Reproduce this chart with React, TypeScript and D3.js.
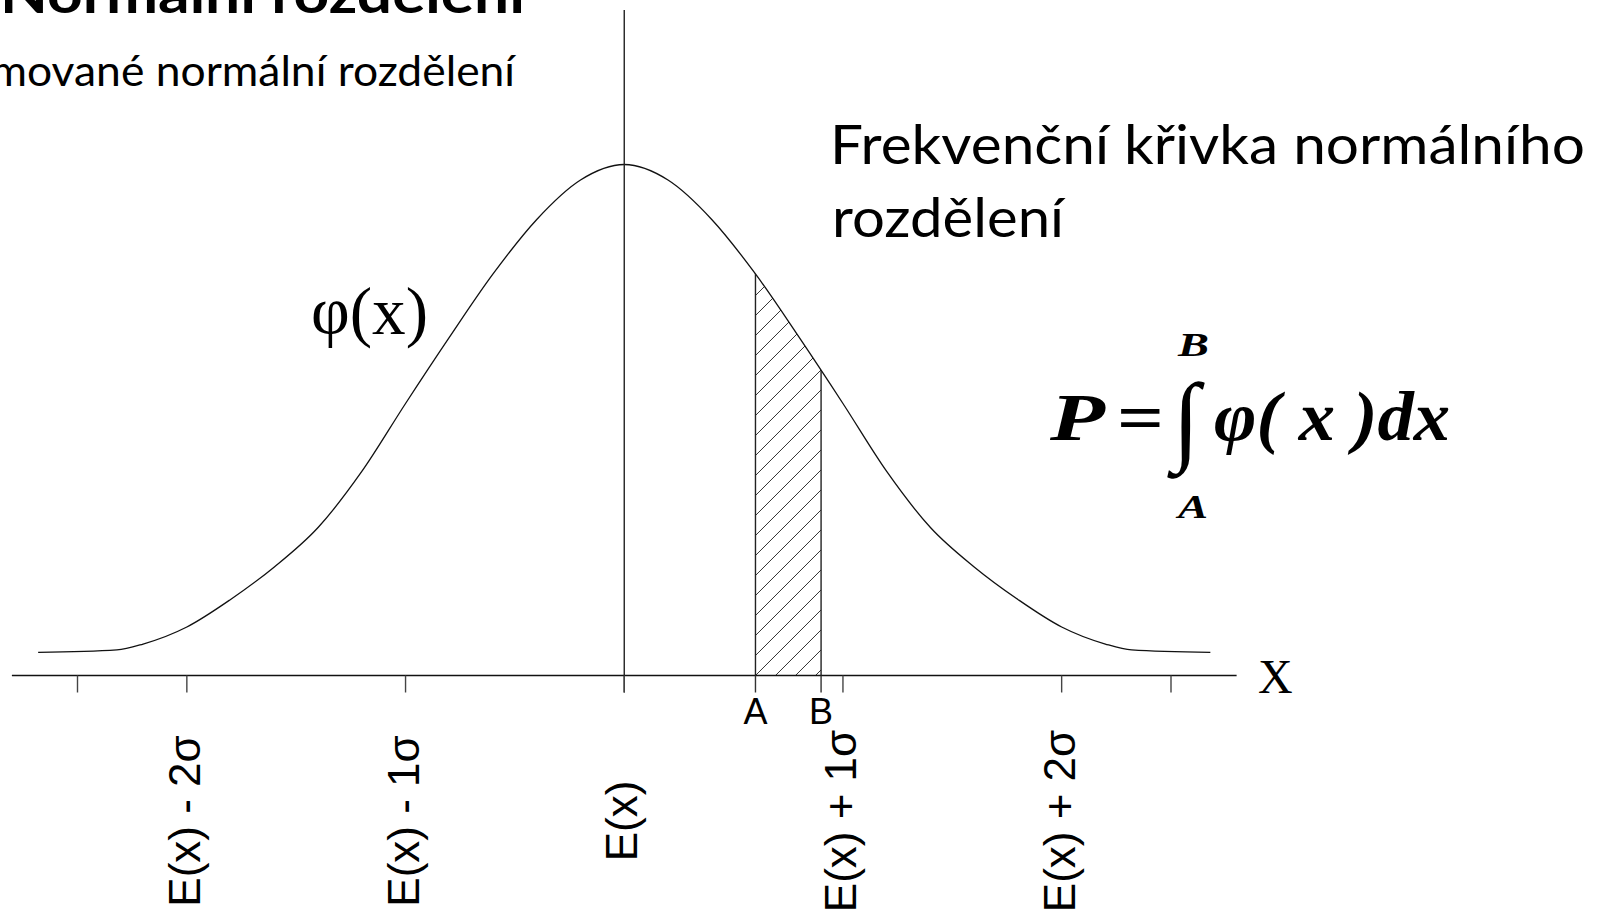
import React from "react";
import * as d3 from "d3";

const W = 1605;
const H = 915;

// Frequency curve samples: position in σ units from E(x), density value
const curveX = [
  -2.68, -2.32, -2.2, -2.0, -1.8, -1.6, -1.4, -1.2, -1.0, -0.8, -0.6, -0.4, -0.2, 0,
  0.2, 0.4, 0.6, 0.8, 1.0, 1.2, 1.4, 1.6, 1.8, 2.0, 2.2, 2.32, 2.68,
];
const curveY = [
  0.018, 0.02, 0.0246, 0.0379, 0.0594, 0.0848, 0.1156, 0.1594, 0.2125, 0.2641, 0.3137, 0.3563, 0.3871, 0.3992,
  0.3871, 0.3563, 0.3137, 0.2641, 0.2125, 0.1594, 0.1156, 0.0848, 0.0594, 0.0379, 0.0246, 0.02, 0.018,
];

// Axis ticks (σ units) and the labelled ones
const tickPositions = [-2.5, -2, -1, 0, 1, 2, 2.5];
const labelPositions = [-2, -1, 0, 1, 2];
const labelTexts = ["E(x) - 2σ", "E(x) - 1σ", "E(x)", "E(x) + 1σ", "E(x) + 2σ"];

// Integration bounds A and B (σ units)
const boundA = 0.6;
const boundB = 0.9;
const boundNames = ["A", "B"];

const serif = "'Liberation Serif', 'Times New Roman', serif";
const sans = "'Liberation Sans', Arial, sans-serif";
const humanist = "Lato, Carlito, Calibri, sans-serif";

export default function App() {
  const x = d3.scaleLinear().domain([-2.5, 2.5]).range([77.5, 1171]);
  const y = d3.scaleLinear().domain([0, 0.4]).range([675.5, 163.5]);

  const pts: [number, number][] = curveX.map((v, i) => [v, curveY[i]]);
  const line = d3
    .line<[number, number]>()
    .x((d) => x(d[0]))
    .y((d) => y(d[1]))
    .curve(d3.curveMonotoneX);
  const area = d3
    .area<[number, number]>()
    .x((d) => x(d[0]))
    .y0(y(0))
    .y1((d) => y(d[1]))
    .curve(d3.curveMonotoneX);

  const y0 = y(0);
  const tickLen = 17;
  const xa = x(boundA);
  const xb = x(boundB);
  const hatchStep = 20;
  const hatchPhase = (xa + y0) % hatchStep;
  const bounds = [boundA, boundB];

  return (
    <svg
      width={W}
      height={H}
      viewBox={`0 0 ${W} ${H}`}
      style={{ position: "fixed", left: 0, top: 0, background: "#fff" }}
    >
      <defs>
        <pattern
          id="hatch"
          patternUnits="userSpaceOnUse"
          width={hatchStep}
          height={hatchStep}
          x={hatchPhase}
          y={0}
        >
          <path
            d={`M0,${hatchStep} L${hatchStep},0 M-5,5 L5,-5 M${hatchStep - 5},${hatchStep + 5} L${hatchStep + 5},${hatchStep - 5}`}
            stroke="#333"
            strokeWidth={1}
          />
        </pattern>
        <clipPath id="under-curve">
          <path d={area(pts) || ""} />
        </clipPath>
      </defs>

      {/* headings */}
      <text x={0} y={13} fontFamily={humanist} fontWeight={700} fontSize={54} textLength={525} lengthAdjust="spacingAndGlyphs">
        Normální rozdělení
      </text>
      <text x={-84} y={86} fontFamily={humanist} fontSize={42} textLength={599} lengthAdjust="spacingAndGlyphs">
        Normované normální rozdělení
      </text>
      <text x={830} y={164} fontFamily={humanist} fontSize={55} textLength={755} lengthAdjust="spacingAndGlyphs">
        Frekvenční křivka normálního
      </text>
      <text x={832} y={237} fontFamily={humanist} fontSize={55} textLength={232} lengthAdjust="spacingAndGlyphs">
        rozdělení
      </text>

      {/* hatched probability region A..B */}
      <g clipPath="url(#under-curve)">
        <rect x={xa} y={0} width={xb - xa} height={y0} fill="url(#hatch)" />
        {bounds.map((b) => (
          <line key={b} x1={x(b)} x2={x(b)} y1={y0} y2={0} stroke="#222" strokeWidth={1.4} />
        ))}
      </g>

      {/* density curve */}
      <path d={line(pts) || ""} fill="none" stroke="#111" strokeWidth={1.3} />

      {/* mean line */}
      <line x1={x(0)} x2={x(0)} y1={10} y2={y0 + tickLen} stroke="#222" strokeWidth={1.4} />

      {/* x axis */}
      <line x1={x(-2.8)} x2={x(2.8)} y1={y0} y2={y0} stroke="#111" strokeWidth={1.5} />
      {tickPositions.map((t) => (
        <line key={t} x1={x(t)} x2={x(t)} y1={y0} y2={y0 + tickLen} stroke="#444" strokeWidth={1.4} />
      ))}
      {bounds.map((b) => (
        <line key={"b" + b} x1={x(b)} x2={x(b)} y1={y0} y2={y0 + tickLen} stroke="#333" strokeWidth={1.4} />
      ))}
      {bounds.map((b, i) => (
        <text key={"n" + b} x={x(b)} y={724} textAnchor="middle" fontFamily={sans} fontSize={36}>
          {boundNames[i]}
        </text>
      ))}
      <text x={1258} y={693} fontFamily={serif} fontSize={48}>
        X
      </text>

      {labelPositions.map((p, i) => (
        <text
          key={p}
          transform={`translate(${x(p) + 13},${821}) rotate(-90)`}
          textAnchor="middle"
          fontFamily={sans}
          fontSize={44}
        >
          {labelTexts[i]}
        </text>
      ))}

      {/* curve label */}
      <text x={311} y={334} fontFamily={serif} fontSize={68} textLength={117} lengthAdjust="spacingAndGlyphs">
        φ(x)
      </text>

      {/* probability integral */}
      <g fontFamily={serif} fontWeight={700} fontStyle="italic">
        <text x={1050} y={440} fontSize={68} textLength={55} lengthAdjust="spacingAndGlyphs">P</text>
        <text x={1117} y={440} fontSize={68} fontStyle="normal" textLength={47} lengthAdjust="spacingAndGlyphs">=</text>
        <text x={1186} y={452} fontSize={99} textAnchor="middle" fontStyle="normal">∫</text>
        <text x={1178} y={356} fontSize={34} textLength={31} lengthAdjust="spacingAndGlyphs">B</text>
        <text x={1178} y={518} fontSize={34} textLength={30} lengthAdjust="spacingAndGlyphs">A</text>
        <text x={1214} y={440} fontSize={70} textLength={236} lengthAdjust="spacingAndGlyphs">
          φ( x )dx
        </text>
      </g>
    </svg>
  );
}
